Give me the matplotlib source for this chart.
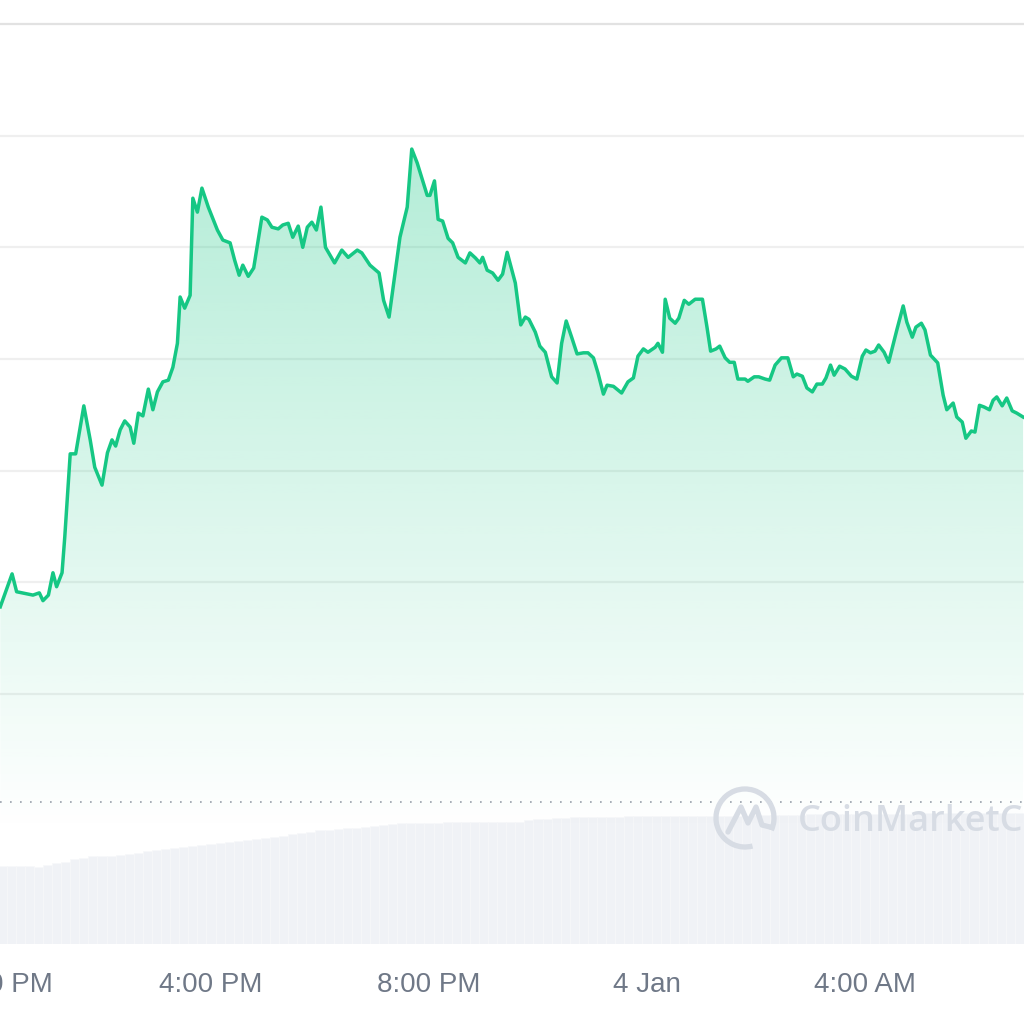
import numpy as np
import matplotlib
matplotlib.use('Agg')
import matplotlib.pyplot as plt
from matplotlib import transforms
from matplotlib.patches import Arc
from matplotlib.colors import LinearSegmentedColormap

# 시간: 3 Jan 12:00 PM 부터 지난 분(minute)
minutes = [8, 21, 26, 44, 51, 55, 61, 66, 70, 76, 79, 85, 91, 100, 107, 112, 120, 126, 131, 135,
           140, 145, 151, 155, 160, 165, 171, 176, 181, 187, 193, 198, 203, 206, 211, 217, 220, 225, 230, 237,
           247, 253, 261, 266, 271, 275, 281, 287, 296, 302, 307, 314, 319, 325, 330, 336, 341, 346, 351, 356,
           361, 366, 376, 384, 391, 401, 406, 415, 425, 430, 436, 443, 448, 456, 461, 467, 478, 481, 486, 490,
           495, 501, 506, 512, 520, 525, 531, 536, 539, 544, 550, 556, 561, 566, 575, 581, 586, 590, 597, 602,
           608, 615, 621, 626, 631, 637, 643, 650, 655, 661, 666, 672, 676, 683, 692, 699, 705, 710, 716, 721,
           729, 732, 737, 740, 745, 751, 755, 761, 766, 773, 781, 786, 790, 796, 800, 806, 811, 816, 820, 828,
           831, 838, 843, 850, 855, 861, 868, 875, 881, 885, 891, 896, 902, 907, 913, 917, 922, 926, 932, 938,
           945, 951, 957, 961, 966, 971, 975, 981, 986, 995, 1002, 1006, 1012, 1016, 1022, 1026, 1032, 1040, 1046, 1050,
           1057, 1061, 1067, 1071, 1077, 1081, 1086, 1091, 1097, 1101, 1105, 1111, 1116, 1122, 1127, 1134]

prices = [1.0156, 1.0215, 1.0183, 1.0177, 1.0181, 1.0167, 1.0177, 1.0217, 1.0192, 1.0217,
          1.0281, 1.0430, 1.0430, 1.0516, 1.0455, 1.0406, 1.0374, 1.0432, 1.0455, 1.0444,
          1.0473, 1.0489, 1.0478, 1.0449, 1.0503, 1.0498, 1.0546, 1.0509, 1.0541, 1.0559,
          1.0562, 1.0585, 1.0628, 1.0711, 1.0691, 1.0714, 1.0888, 1.0863, 1.0906, 1.0872,
          1.0831, 1.0813, 1.0808, 1.0777, 1.0750, 1.0768, 1.0748, 1.0763, 1.0854, 1.0849,
          1.0836, 1.0833, 1.0840, 1.0843, 1.0818, 1.0838, 1.0800, 1.0836, 1.0845, 1.0831,
          1.0872, 1.0800, 1.0772, 1.0795, 1.0782, 1.0795, 1.0790, 1.0768, 1.0754, 1.0705,
          1.0675, 1.0759, 1.0818, 1.0872, 1.0976, 1.0951, 1.0893, 1.0893, 1.0919, 1.0850,
          1.0847, 1.0816, 1.0808, 1.0782, 1.0772, 1.0790, 1.0781, 1.0772, 1.0782, 1.0759,
          1.0754, 1.0741, 1.0752, 1.0791, 1.0736, 1.0661, 1.0675, 1.0671, 1.0648, 1.0623,
          1.0612, 1.0568, 1.0557, 1.0628, 1.0668, 1.0639, 1.0609, 1.0611, 1.0611, 1.0602,
          1.0575, 1.0537, 1.0553, 1.0551, 1.0539, 1.0559, 1.0566, 1.0605, 1.0618, 1.0612,
          1.0621, 1.0628, 1.0612, 1.0707, 1.0673, 1.0664, 1.0673, 1.0705, 1.0698, 1.0707,
          1.0707, 1.0657, 1.0614, 1.0618, 1.0623, 1.0602, 1.0594, 1.0594, 1.0564, 1.0564,
          1.0560, 1.0568, 1.0568, 1.0564, 1.0562, 1.0589, 1.0602, 1.0602, 1.0568, 1.0573,
          1.0569, 1.0548, 1.0541, 1.0555, 1.0555, 1.0566, 1.0589, 1.0571, 1.0587, 1.0582,
          1.0569, 1.0564, 1.0605, 1.0616, 1.0611, 1.0614, 1.0625, 1.0612, 1.0594, 1.0652,
          1.0695, 1.0666, 1.0639, 1.0657, 1.0664, 1.0652, 1.0607, 1.0593, 1.0535, 1.0509,
          1.0521, 1.0496, 1.0487, 1.0458, 1.0471, 1.0469, 1.0517, 1.0514, 1.0509, 1.0526,
          1.0532, 1.0516, 1.0530, 1.0507, 1.0503, 1.0496]

# 10분 단위 거래량 (24h 누적)
vol_minutes = list(range(10, 1131, 10))
volumes = [39, 39, 39, 39, 38.5, 39.5,
           40.5, 41, 42.5,
           43, 44, 44, 44,
           44.5, 45, 45.5, 46.5,
           47, 47.5, 48, 48.5,
           49, 49.5, 50, 50.5, 51, 51.5,
           52, 52.5, 53, 53.5,
           54, 55, 55.5, 56, 57,
           57, 57.5, 58, 58, 58.5,
           59, 59.5, 60, 60.5, 60.5,
           60.5, 60.5, 60.5, 61, 61, 61, 61, 61, 61, 61, 61, 61,
           62, 62.5, 62.5, 63, 63, 63.5, 63.5,
           63.5, 63.5, 63.5, 63.5, 64, 64, 64, 64, 64, 64, 64, 64, 64, 64,
           64, 64, 64, 64, 64.5, 64.5, 64.5, 64.5, 64.5, 64.5,
           65, 65, 65, 65, 65, 65, 65, 65, 65, 65,
           65, 65, 65.5, 65.5, 65.5, 65.5, 65.5, 65.5, 65.5, 65.5,
           65.5, 65.5, 65.5, 65.5]

open_price = 0.9807
grid_levels = [1.00, 1.02, 1.04, 1.06, 1.08, 1.10, 1.12]
tick_minutes = [0, 240, 480, 720, 960]
tick_labels = ['12:00 PM', '4:00 PM', '8:00 PM', '4 Jan', '4:00 AM']

green = '#16c784'
label_color = '#6f7887'
mark_color = '#d7dce4'

fig = plt.figure(figsize=(10.24, 10.24), dpi=100)
fig.patch.set_facecolor('white')

# 거래량 (아래쪽)
vax = fig.add_axes([0, 80 / 1024, 1, 142 / 1024])
vax.bar(vol_minutes, volumes, width=10, color='#f0f2f6', edgecolor='#f7f8fa', linewidth=0.4)
vax.set_xlim(7.7, 1135)
vax.set_ylim(0, 71)
vax.axis('off')

# 가격
ax = fig.add_axes([0, 80 / 1024, 1, 944 / 1024])
ax.patch.set_alpha(0)
ax.set_xlim(7.7, 1135)
ax.set_ylim(0.9552, 1.1243)

for lv in grid_levels:
    c = '#e2e2e2' if lv == grid_levels[-1] else '#efefef'
    ax.axhline(lv, color=c, lw=1.6, zorder=1)

ax.axhline(open_price, color='#9aa0aa', lw=1.2, ls=(0, (1, 5)), zorder=2)

# 그라데이션 채우기
poly = ax.fill_between(minutes, prices, 0.9552, color='none', lw=0)
cmap = LinearSegmentedColormap.from_list('g', [(22/255, 199/255, 132/255, 0.0),
                                               (22/255, 199/255, 132/255, 0.33)])
grad = np.linspace(0, 1, 256).reshape(-1, 1)
img = ax.imshow(grad, cmap=cmap, aspect='auto', origin='lower',
                extent=[7.7, 1135, 0.975, 1.10], zorder=2)
path = poly.get_paths()[0]
img.set_clip_path(path, transform=ax.transData)

ax.plot(minutes, prices, color=green, lw=2.5, solid_joinstyle='round', zorder=3)

for s in ax.spines.values():
    s.set_visible(False)
ax.set_xticks([])
ax.set_yticks([])

trans = transforms.blended_transform_factory(ax.transData, fig.transFigure)
for m, lab in zip(tick_minutes, tick_labels):
    ax.text(m, 1 - 985 / 1024, lab, transform=trans, ha='center', va='center',
            fontsize=20, color=label_color, family='Liberation Sans', clip_on=False)

# 워터마크
ov = fig.add_axes([0, 0, 1, 1])
ov.patch.set_alpha(0)
ov.set_xlim(0, 1024)
ov.set_ylim(1024, 0)
ov.axis('off')
ov.add_patch(Arc((745, 818), 58, 58, theta1=75, theta2=385, color=mark_color, lw=3.8))
ov.plot([728, 741, 748, 756, 762, 770], [832, 807, 823, 807, 825, 827],
        color=mark_color, lw=3.8, solid_capstyle='round', solid_joinstyle='round')
ov.text(798, 822, 'CoinMarketCap', ha='left', va='center', fontsize=26,
        fontweight='semibold', color=mark_color, family='Open Sans')

fig.savefig('out.png', dpi=100)
